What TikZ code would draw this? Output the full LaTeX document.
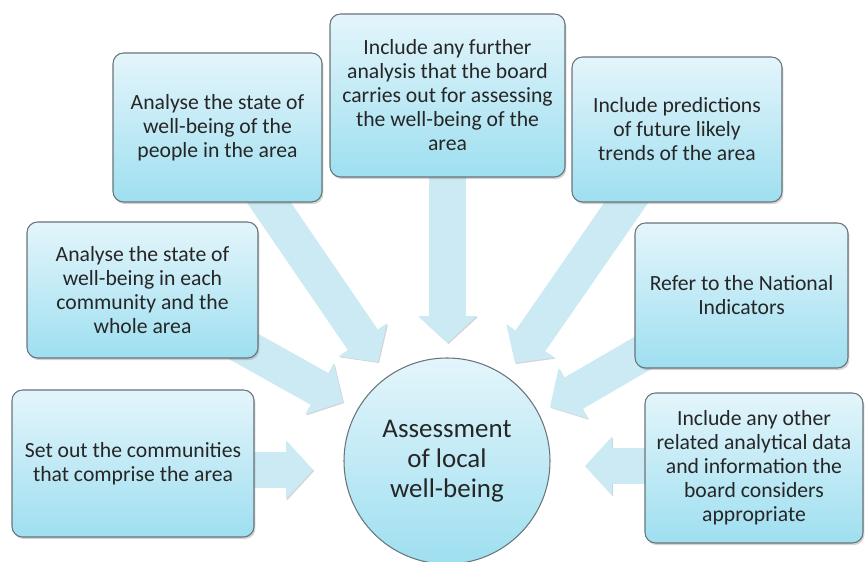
\documentclass[tikz,border=0pt]{standalone}
\usepackage{fontspec}
\setmainfont{Carlito}
\usepackage{tikz}
\usetikzlibrary{arrows.meta,shadows,backgrounds,positioning}
\definecolor{boxtop}{RGB}{228,245,251}
\definecolor{boxbottom}{RGB}{158,223,240}
\definecolor{boxline}{RGB}{104,116,122}
\definecolor{flowblue}{RGB}{204,234,244}
\definecolor{inktext}{RGB}{38,38,38}

\begin{document}
\begin{tikzpicture}[
    card/.style={rectangle, draw=boxline, line width=0.9pt, rounded corners=9pt,
                 top color=boxtop, bottom color=boxbottom, text=inktext, align=center,
                 font=\fontsize{18.5}{20.5}\selectfont,
                 drop shadow={shadow xshift=1.2pt, shadow yshift=-1.8pt, opacity=0.35}},
    hub/.style={circle, draw=boxline, line width=0.9pt, minimum size=6.18cm,
                top color=boxtop, bottom color=boxbottom, text=inktext, align=center,
                font=\fontsize{23}{25.6}\selectfont},
    flow/.style={draw=flowblue, line width=31pt,
                 -{Triangle[length=23pt, width=50pt, line width=0pt]},
                 preaction={draw=boxline!30, transform canvas={xshift=0.9pt, yshift=-0.9pt}}}
]
\useasboundingbox (0,0) rectangle (25.98,16.86);

% Boxes round the centre
\node[card, minimum width=7.26cm, minimum height=4.41cm] (b1) at (3.99, 2.955)
    {Set out the communities\\that comprise the area};
\node[card, minimum width=6.93cm, minimum height=4.08cm] (b2) at (4.275, 8.16)
    {Analyse the state of\\well-being in each\\community and the\\whole area};
\node[card, minimum width=6.27cm, minimum height=4.47cm] (b3) at (6.525, 13.035)
    {Analyse the state of\\well-being of the\\people in the area};
\node[card, minimum width=7.05cm, minimum height=4.89cm] (b4) at (13.425, 13.995)
    {Include any further\\analysis that the board\\carries out for assessing\\the well-being of the\\area};
\node[card, minimum width=6.3cm, minimum height=4.35cm] (b5) at (20.31, 12.975)
    {Include predictions\\of future likely\\trends of the area};
\node[card, minimum width=6.39cm, minimum height=4.35cm] (b6) at (22.245, 7.995)
    {Refer to the National\\Indicators};
\node[card, minimum width=6.54cm, minimum height=4.5cm] (b7) at (22.62, 2.82)
    {Include any other\\related analytical data\\and information the\\board considers\\appropriate};

% Centre circle
\node[hub] (core) at (13.41, 3.03) {Assessment\\of local\\well-being};

% Arrow tips near the circle
\coordinate (t1) at (9.39, 2.76);
\coordinate (t2) at (10.29, 4.8);
\coordinate (t3) at (11.34, 6.0);
\coordinate (t4) at (13.425, 6.57);
\coordinate (t5) at (15.45, 5.97);
\coordinate (t6) at (16.5, 4.65);
\coordinate (t7) at (17.55, 2.88);

% Block arrows behind the boxes
\begin{scope}[on background layer]
\draw[flow] (b1.center |- t1) -- (t1);
\draw[flow] (b2.center) -- (t2);
\draw[flow] (b3.center) -- (t3);
\draw[flow] (b4.center) -- (t4);
\draw[flow] (b5.center) -- (t5);
\draw[flow] (b6.center) -- (t6);
\draw[flow] (b7.center |- t7) -- (t7);
\end{scope}

\end{tikzpicture}
\end{document}
